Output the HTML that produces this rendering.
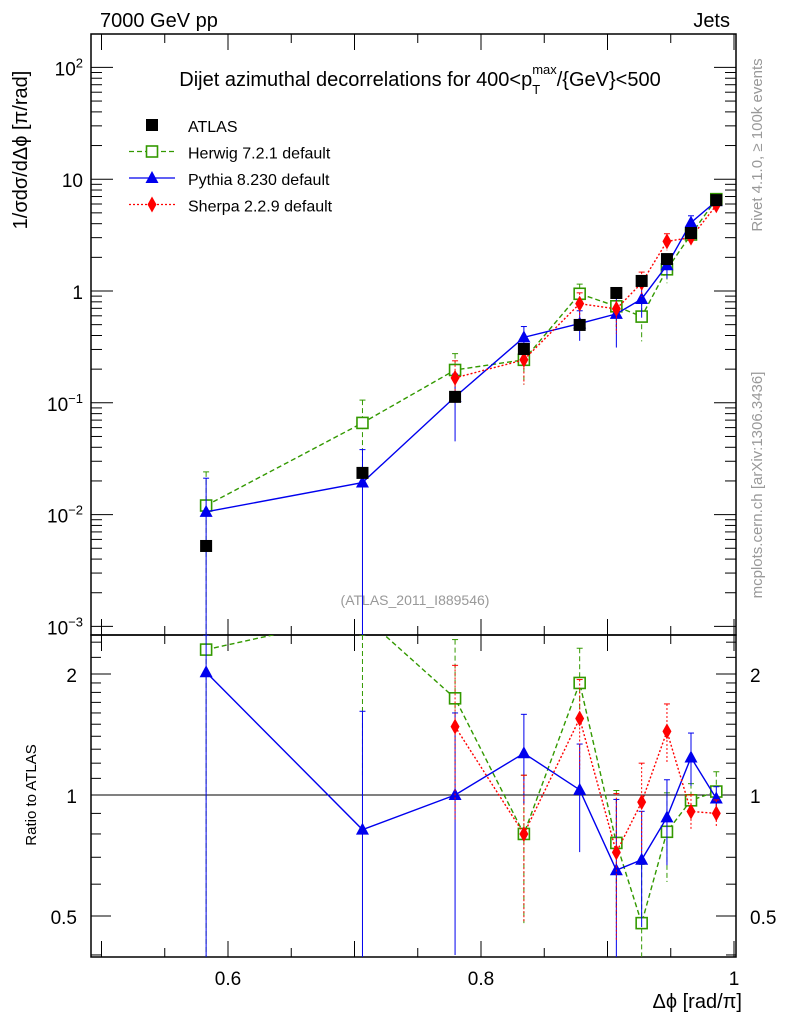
<!DOCTYPE html>
<html><head><meta charset="utf-8"><style>
html,body{margin:0;padding:0;background:#fff;width:786px;height:1024px;overflow:hidden;}
svg{display:block;font-family:"Liberation Sans",sans-serif;overflow:hidden;}
</style></head><body>
<svg id="c" width="786" height="1024" viewBox="0 0 786 1024"></svg>
<script>
const xs=[0.5827,0.7063,0.7795,0.8339,0.878,0.907,0.927,0.947,0.966,0.986];
const atlas=[0.00524,0.0236,0.113,0.303,0.497,0.96,1.23,1.93,3.3,6.5];
const herwigRatio=[2.3,2.8,1.74,0.80,1.90,0.76,0.48,0.81,0.97,1.02];
const herwigErr=[1.0,0.6,0.4,0.4,0.22,0.35,0.4,0.25,0.1,0.12];
const pythiaRatio=[2.02,0.82,1.0,1.27,1.03,0.65,0.69,0.88,1.24,0.98];
const pythiaErr=[1.0,0.97,0.6,0.25,0.3,0.5,0.32,0.24,0.15,0.07];
const sherpaRatio=[null,null,1.48,0.80,1.55,0.72,0.96,1.44,0.91,0.90];
const sherpaErr=[null,null,0.42,0.4,0.25,0.4,0.25,0.17,0.1,0.08];
const yTicks=[0.001,0.01,0.1,1,10,100];
const yTickLabels=["10<tspan dy='-8' font-size='13'>−3</tspan>","10<tspan dy='-8' font-size='13'>−2</tspan>","10<tspan dy='-8' font-size='13'>−1</tspan>","1","10","10<tspan dy='-8' font-size='13'>2</tspan>"];
const xLabels=[0.6,0.8,1];
const rTicks=[0.5,1,2];

const svg=document.getElementById('c');
const NS='http://www.w3.org/2000/svg';
const L=91,R=736,T=34,MB=635,RB=957;
const X=v=>228+(v-0.6)*1265;
const Y=v=>291-Math.log10(v)*111.8;
const RY=r=>795-Math.log2(r)*121;
const clampY=(y,a,b)=>Math.min(Math.max(y,a),b);
function mk(tag,a,parent){const e=document.createElementNS(NS,tag);for(const k in a)e.setAttribute(k,a[k]);(parent||svg).appendChild(e);return e;}
function line(x1,y1,x2,y2,st,parent){return mk('line',{x1,y1,x2,y2,stroke:st||'#000','stroke-width':1},parent);}
function text(x,y,s,sz,anchor,parent,extra){const t=mk('text',Object.assign({x,y,'font-size':sz,'text-anchor':anchor||'start',fill:'#000'},extra||{}),parent);t.innerHTML=s;return t;}

const f1=mk('rect',{x:L,y:T,width:R-L,height:MB-T,fill:'none',stroke:'#000','stroke-width':1.5});


const f2=mk('rect',{x:L,y:MB,width:R-L,height:RB-MB,fill:'none',stroke:'#000','stroke-width':1.5});



const xg=mk('g',{});


for(let i=0;i<=10;i++){const v=0.5+i*0.05;const x=X(v);if(x<L||x>R)continue;const len=(i%2==0)?16:9;
 for(const [a,b] of [[T,1],[MB,-1],[MB,1],[RB,-1]]) line(x,a,x,a+b*len,'#000',xg);}
for(const v of xLabels) text(X(v),985,String(v),19,'middle',xg);
const xt=text(742,1008,'Δϕ [rad/π]',20,'end',xg);



const yg=mk('g',{});


yTicks.forEach((v,i)=>{const y=Y(v);line(L,y,L+22,y,'#000',yg);line(R,y,R-22,y,'#000',yg);
 text(L-8,y+8,yTickLabels[i],19,'end',yg);
 for(let m=2;m<10;m++){const yy=Y(v*m);if(yy<T)continue;line(L,yy,L+11,yy,'#000',yg);line(R,yy,R-11,yy,'#000',yg);}});
const yt=text(0,0,'1/σdσ/dΔϕ [π/rad]',20,'middle',yg,{transform:'translate(27,150) rotate(-90)'});



const rg=mk('g',{});


for(const r of rTicks){const y=RY(r);line(L,y,L+20,y,'#000',rg);line(R,y,R-20,y,'#000',rg);text(L-14,y+8,String(r),19,'end',rg);text(R+14,y+8,String(r),19,'start',rg);}
for(const r of [0.4,0.6,0.7,0.8,0.9,1.1,1.2,1.3,1.4,1.5,1.6,1.7,1.8,1.9,2.2,2.4]){const y=RY(r);if(y<MB||y>RB)continue;line(L,y,L+10,y,'#000',rg);line(R,y,R-10,y,'#000',rg);}
line(L,RY(1),R,RY(1),'#000',rg);
text(0,0,'Ratio to ATLAS',15,'middle',rg,{transform:'translate(36,795) rotate(-90)'});

const h1=text(100,27,'7000 GeV pp',20,'start');

const h2=text(730,27,'Jets',20,'end');

const ti=text(420,86,'Dijet azimuthal decorrelations for 400&lt;p<tspan dy="8" font-size="13">T</tspan><tspan dy="-20" dx="-8" font-size="13">max</tspan><tspan dy="12">/{GeV}&lt;500</tspan>',20,'middle');

text(415,605,'(ATLAS_2011_I889546)',14,'middle',null,{fill:'#999'});
text(0,0,'Rivet 4.1.0, ≥ 100k events',15,'middle',null,{fill:'#999',transform:'translate(762,145) rotate(-90)'});
text(0,0,'mcplots.cern.ch [arXiv:1306.3436]',15,'middle',null,{fill:'#999',transform:'translate(762,485) rotate(-90)'});

const defs=mk('defs',{});
const c1=mk('clipPath',{id:'cm'},defs);mk('rect',{x:L,y:T,width:R-L,height:MB-T},c1);
const c2=mk('clipPath',{id:'cr'},defs);mk('rect',{x:L,y:MB,width:R-L,height:RB-MB},c2);

function marker(g,kind,x,y,col){
 if(kind==='sq') mk('rect',{x:x-6,y:y-6,width:12,height:12,fill:col},g);
 else if(kind==='osq') mk('rect',{x:x-5.5,y:y-5.5,width:11,height:11,fill:'#fff',stroke:col,'stroke-width':1.6},g);
 else if(kind==='tri') mk('polygon',{points:`${x},${y-7} ${x-6.5},${y+5} ${x+6.5},${y+5}`,fill:col},g);
 else mk('polygon',{points:`${x},${y-8} ${x-4.5},${y} ${x},${y+8} ${x+4.5},${y}`,fill:col},g);
}
const series=[
 {name:'herwig',ratio:herwigRatio,err:herwigErr,col:'#339900',dash:'5,3',kind:'osq'},
 {name:'pythia',ratio:pythiaRatio,err:pythiaErr,col:'#0000ee',dash:'',kind:'tri'},
 {name:'sherpa',ratio:sherpaRatio,err:sherpaErr,col:'#ff0000',dash:'2,2',kind:'dia'}];
function drawSeries(s,panel){
 const g=mk('g',{'clip-path':panel==='main'?'url(#cm)':'url(#cr)'});
 
 
 const top=panel==='main'?T:MB, bot=panel==='main'?MB:RB;
 const pts=[];
 xs.forEach((x,i)=>{const r=s.ratio[i];if(r==null)return;
  const val=panel==='main'?atlas[i]*r:r;const F=panel==='main'?Y:RY;
  const e=s.err[i];const hi=val*(1+e),lo=Math.max(val*(1-e),1e-6);
  const px=X(x);
  const yh=clampY(F(hi),top,bot), yl=clampY(F(lo),top,bot);
  line(px,yh,px,yl,s.col,g).setAttribute('stroke-dasharray',s.dash);
  line(px-3,yh,px+3,yh,s.col,g);
  pts.push([px,clampY(F(val),top-60,bot+60)]);});
 mk('polyline',{points:pts.map(p=>p.join(',')).join(' '),fill:'none',stroke:s.col,'stroke-width':1.4,'stroke-dasharray':s.dash},g);
 pts.forEach(p=>marker(g,s.kind,p[0],p[1],s.col));
}
for(const s of series){drawSeries(s,'main');drawSeries(s,'ratio');}
const ag=mk('g',{'clip-path':'url(#cm)'});


xs.forEach((x,i)=>marker(ag,'sq',X(x),Y(atlas[i]),'#000'));

const lg=mk('g',{});


const leg=[['ATLAS','sq','#000',''],['Herwig 7.2.1 default','osq','#339900','5,3'],['Pythia 8.230 default','tri','#0000ee',''],['Sherpa 2.2.9 default','dia','#ff0000','2,2']];
leg.forEach((l,i)=>{const y=125+i*26.5;
 if(i>0) mk('line',{x1:129,y1:y,x2:175,y2:y,stroke:l[2],'stroke-width':1.2,'stroke-dasharray':l[3]},lg);
 marker(lg,l[1],152,y,l[2]);text(188,y+7,l[0],16,'start',lg);});
</script>
</body></html>
